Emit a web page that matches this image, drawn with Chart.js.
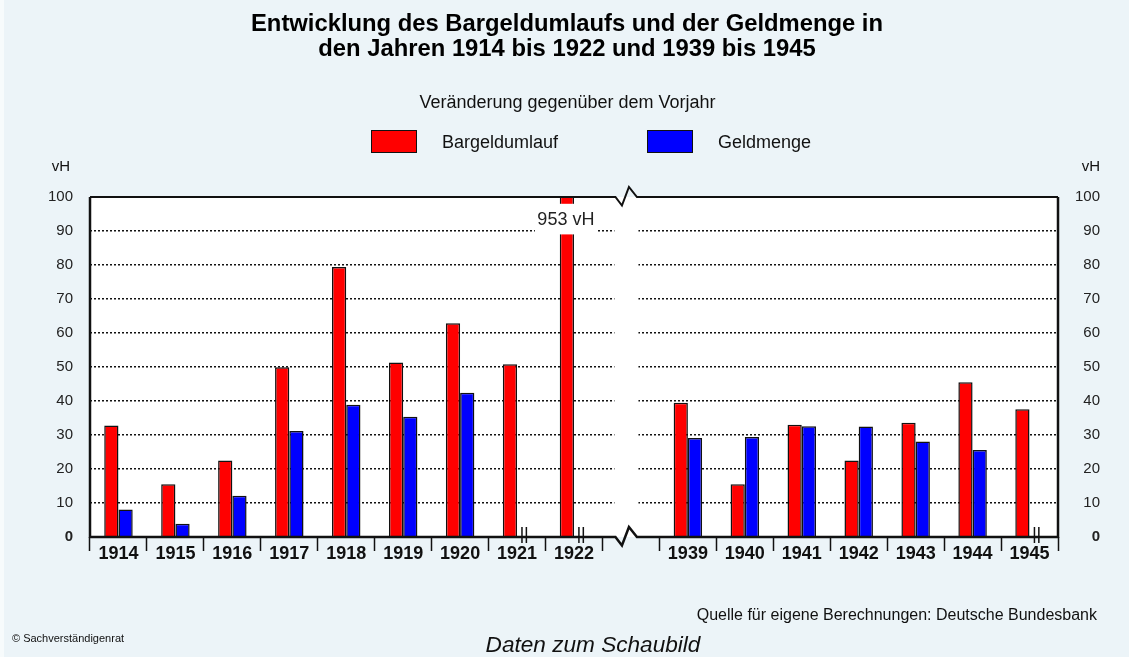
<!DOCTYPE html>
<html lang="de">
<head>
<meta charset="utf-8">
<title>Bargeldumlauf und Geldmenge 1914-1922 und 1939-1945</title>
<script src="https://cdn.jsdelivr.net/npm/chart.js@4.4.0/dist/chart.umd.min.js"></script>
<style>
  html, body { margin: 0; padding: 0; }
  body {
    width: 1129px; height: 657px; position: relative; overflow: hidden;
    background: #ecf4f8; color: #111;
    font-family: Arial, "Liberation Sans", sans-serif;
  }
  #edge { position: absolute; left: 0; top: 0; width: 4px; height: 657px; background: #f7fbfc; }
  canvas { position: absolute; left: 0; top: 0; }
  .txt { position: absolute; white-space: nowrap; }
  #title { left: 0; width: 1134px; top: 10px; text-align: center; font-weight: bold; font-size: 23.8px; line-height: 25px; color: #000; }
  #subtitle { left: 0; width: 1135px; top: 91px; text-align: center; font-size: 18px; line-height: 22px; }
  .box { position: absolute; width: 44px; height: 21px; border: 1.5px solid #111; top: 130px; }
  .leg { position: absolute; top: 131px; font-size: 18px; line-height: 22px; white-space: nowrap; }
  .unit { top: 157px; font-size: 15px; line-height: 18px; text-align: right; }
  #quelle { right: 32px; top: 605px; font-size: 16px; line-height: 20px; }
  #copy { left: 12px; top: 631px; font-size: 11px; line-height: 14px; }
  #daten { left: 0; width: 1186px; top: 632px; text-align: center; font-size: 22.6px; line-height: 26px; font-style: italic; }
</style>
</head>
<body>
<div id="edge"></div>
<canvas id="myChart" width="1129" height="657"></canvas>
<div class="txt" id="title">Entwicklung des Bargeldumlaufs und der Geldmenge in<br>den Jahren 1914 bis 1922 und 1939 bis 1945</div>
<div class="txt" id="subtitle">Veränderung gegenüber dem Vorjahr</div>
<div id="legend"></div>
<div class="txt unit" style="left:0;width:70px;">vH</div>
<div class="txt unit" style="left:1000px;width:100px;">vH</div>
<div class="txt" id="quelle">Quelle für eigene Berechnungen: Deutsche Bundesbank</div>
<div class="txt" id="copy">© Sachverständigenrat</div>
<div class="txt" id="daten">Daten zum Schaubild</div>

<script>
// years, '' marks the axis break between 1922 and 1939
const labels = ['1914', '1915', '1916', '1917', '1918', '1919', '1920', '1921', '1922', '',
  '1939', '1940', '1941', '1942', '1943', '1944', '1945'];

// change against previous year in vH
const bargeldumlauf = [32.8, 15.5, 22.5, 49.9, 79.4, 51.3, 62.9, 50.8, 953, null,
  39.5, 15.5, 33.0, 22.5, 33.6, 45.5, 37.6];
const geldmenge = [8.1, 3.9, 12.1, 31.2, 38.9, 35.4, 42.4, null, null, null,
  29.1, 29.4, 32.6, 32.5, 28.1, 25.6, null];

const yTicks = [0, 10, 20, 30, 40, 50, 60, 70, 80, 90, 100];

const FONT = 'Arial, "Liberation Sans", sans-serif';

function breakX(chart) {
  return chart.scales.x.getPixelForValue(labels.indexOf('')) - 4.5;
}

function zigzag(ctx, a, y, c) {
  ctx.moveTo(a.left, y);
  ctx.lineTo(c - 11, y);
  ctx.lineTo(c - 4.5, y + 8.5);
  ctx.lineTo(c + 2.5, y - 10);
  ctx.lineTo(c + 10.5, y);
  ctx.lineTo(a.right, y);
}

const framePlugin = {
  id: 'frame',
  beforeDraw(chart) {
    const { ctx, chartArea: a } = chart;
    ctx.save();
    ctx.fillStyle = '#fff';
    ctx.fillRect(a.left, a.top, a.right - a.left, a.bottom - a.top);
    ctx.restore();
  },
  beforeDatasetsDraw(chart) {
    // wipe the gridlines in the break
    const { ctx, chartArea: a } = chart;
    const c = breakX(chart);
    ctx.save();
    ctx.fillStyle = '#fff';
    ctx.fillRect(c - 12, a.top + 1, 24, a.bottom - a.top - 2);
    ctx.restore();
  },
  afterDatasetsDraw(chart) {
    const { ctx, chartArea: a } = chart;
    const y = chart.scales.y;
    const red = chart.getDatasetMeta(0).data;
    ctx.save();

    // label for the bar that runs off the scale
    bargeldumlauf.forEach((v, i) => {
      if (v === null || v <= y.max) return;
      const bx = red[i].x - 1;
      const top = y.getPixelForValue(98);
      const bot = y.getPixelForValue(89);
      ctx.fillStyle = '#fff';
      ctx.fillRect(bx - 31, top, 62, bot - top);
      ctx.fillStyle = '#222';
      ctx.font = '18px ' + FONT;
      ctx.textAlign = 'center';
      ctx.textBaseline = 'middle';
      ctx.fillText(v + ' vH', bx, y.getPixelForValue(93.3));
    });

    // "||" where Geldmenge has no value
    ctx.strokeStyle = '#111';
    ctx.lineWidth = 1.5;
    geldmenge.forEach((v, i) => {
      if (v !== null || bargeldumlauf[i] === null) return;
      const cx = red[i].x + red[i].width;
      ctx.beginPath();
      ctx.moveTo(cx - 2.2, a.bottom - 10); ctx.lineTo(cx - 2.2, a.bottom + 6);
      ctx.moveTo(cx + 2.2, a.bottom - 10); ctx.lineTo(cx + 2.2, a.bottom + 6);
      ctx.stroke();
    });

    // frame with break marks
    const c = breakX(chart);
    ctx.lineWidth = 2;
    ctx.beginPath();
    zigzag(ctx, a, a.top, c);
    ctx.stroke();
    ctx.lineWidth = 2.5;
    ctx.beginPath();
    zigzag(ctx, a, a.bottom, c);
    ctx.moveTo(a.left, a.top); ctx.lineTo(a.left, a.bottom + 1);
    ctx.moveTo(a.right, a.top); ctx.lineTo(a.right, a.bottom + 1);
    ctx.stroke();
    ctx.restore();
  }
};

const yFont = (ctx) => ({
  family: FONT,
  size: 15,
  weight: ctx.tick && ctx.tick.value === 0 ? 'bold' : 'normal'
});

const data = {
  labels: labels,
  datasets: [{
    label: 'Bargeldumlauf',
    backgroundColor: '#ff0000',
    borderColor: '#111',
    borderWidth: 1.5,
    data: bargeldumlauf,
  },
  {
    label: 'Geldmenge',
    backgroundColor: '#0000ff',
    borderColor: '#111',
    borderWidth: 1.5,
    data: geldmenge,
  }]
};

const config = {
  type: 'bar',
  data,
  options: {
    responsive: false,
    animation: false,
    events: [],
    layout: { padding: { top: 197, bottom: 80, left: 0, right: 29 } },
    datasets: { bar: { categoryPercentage: 0.5, barPercentage: 1.0 } },
    plugins: { legend: { display: false }, tooltip: { enabled: false } },
    scales: {
      x: {
        afterFit: (s) => { s.height = 40; },
        border: { display: false },
        grid: {
          drawOnChartArea: false, drawTicks: true, offset: true,
          tickLength: 14, tickColor: '#111', tickWidth: 1.5
        },
        ticks: {
          color: '#111', padding: -8, autoSkip: false, maxRotation: 0,
          font: { family: FONT, size: 18, weight: 'bold' }
        }
      },
      y: {
        min: 0, max: 100,
        afterFit: (s) => { s.width = 90; },
        afterBuildTicks: (s) => { s.ticks = yTicks.map(v => ({ value: v })); },
        border: { display: false, dash: [2, 2] },
        grid: {
          drawTicks: false, lineWidth: 1.5,
          color: (ctx) => (ctx.tick && (ctx.tick.value === 0 || ctx.tick.value === 100)) ? 'rgba(0,0,0,0)' : '#111'
        },
        ticks: { color: '#222', padding: 17, font: yFont }
      },
      y2: {
        position: 'right',
        min: 0, max: 100,
        afterFit: (s) => { s.width = 42; },
        afterBuildTicks: (s) => { s.ticks = yTicks.map(v => ({ value: v })); },
        border: { display: false },
        grid: { display: false, drawTicks: false },
        ticks: { color: '#222', padding: 17, crossAlign: 'far', font: yFont }
      }
    }
  },
  plugins: [framePlugin]
};

const myChart = new Chart(document.getElementById('myChart').getContext('2d'), config);

// legend boxes built from the datasets
const legendEl = document.getElementById('legend');
myChart.data.datasets.forEach((ds, i) => {
  const box = document.createElement('div');
  box.className = 'box';
  box.style.left = (371 + i * 276) + 'px';
  box.style.background = ds.backgroundColor;
  legendEl.appendChild(box);
  const txt = document.createElement('div');
  txt.className = 'leg';
  txt.style.left = (442 + i * 276) + 'px';
  txt.textContent = ds.label;
  legendEl.appendChild(txt);
});
</script>
</body>
</html>
